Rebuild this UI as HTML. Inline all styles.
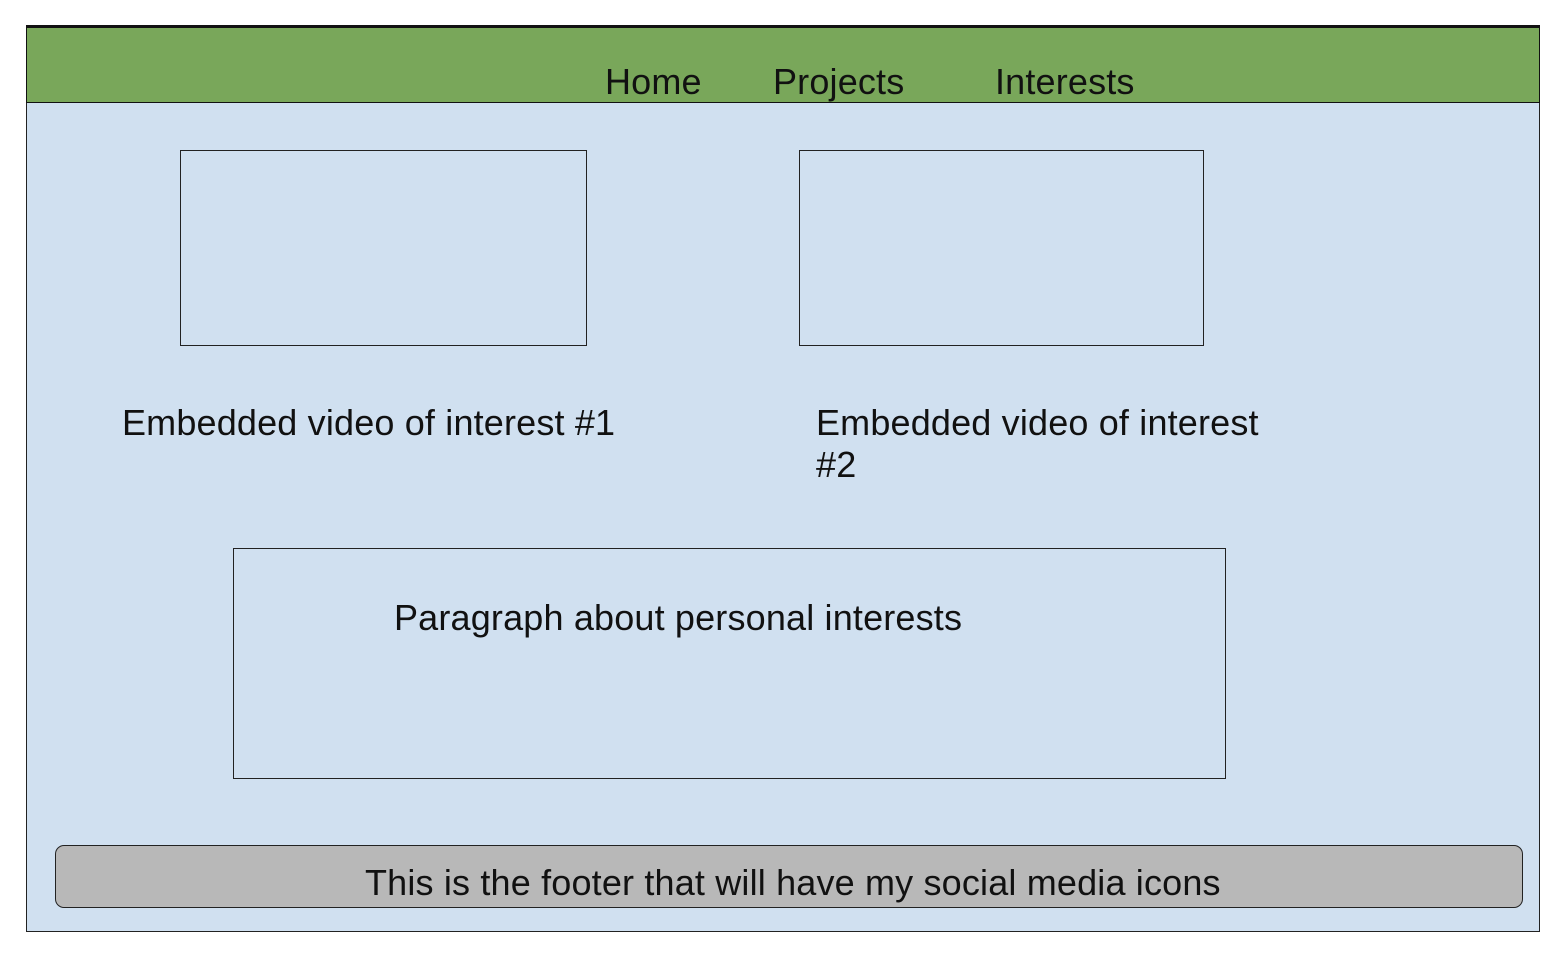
<!DOCTYPE html>
<html><head><style>
body{margin:0;width:1562px;height:958px;background:#fff;position:relative;overflow:hidden;font-family:"Liberation Sans",Arial,sans-serif;color:#111}
div{position:absolute;box-sizing:border-box}
.t{font-size:36px;line-height:42px;white-space:nowrap;letter-spacing:0.17px}
.b{border:1.5px solid #222}
</style></head><body>
<div style="left:26px;top:25px;width:1514px;height:907px;background:#d0e0f0;border:1.5px solid #222"></div>
<div style="left:26px;top:25px;width:1514px;height:78px;background:#79a75a;border:1.5px solid #111;border-top-width:3px"></div>
<div class="t" style="left:605px;top:61px">Home</div>
<div class="t" style="left:773px;top:61px">Projects</div>
<div class="t" style="left:995px;top:61px">Interests</div>
<div class="b" style="left:180px;top:150px;width:407px;height:196px"></div>
<div class="b" style="left:799px;top:150px;width:405px;height:196px"></div>
<div class="t" style="left:122px;top:402px">Embedded video of interest #1</div>
<div class="t" style="left:816px;top:402px">Embedded video of interest<br>#2</div>
<div class="b" style="left:233px;top:548px;width:993px;height:231px"></div>
<div class="t" style="left:394px;top:597px">Paragraph about personal interests</div>
<div style="left:55px;top:845px;width:1468px;height:63px;background:#b8b8b8;border:1.5px solid #222;border-radius:9px"></div>
<div class="t" style="left:365px;top:862px">This is the footer that will have my social media icons</div>
</body></html>
